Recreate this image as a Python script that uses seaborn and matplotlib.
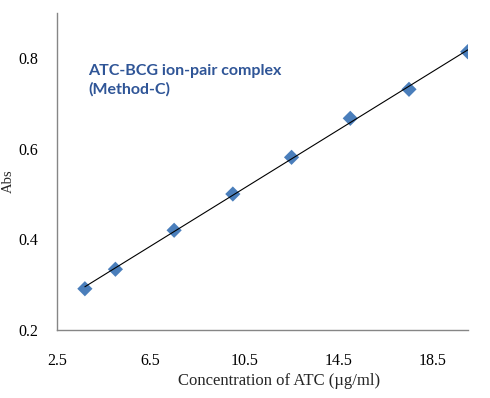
import numpy as np
import pandas as pd
import matplotlib
matplotlib.use("Agg")
import matplotlib.pyplot as plt
import seaborn as sns

conc = [3.7, 5.0, 7.5, 10.0, 12.5, 15.0, 17.5, 20.0]
absorb = [0.291, 0.334, 0.420, 0.500, 0.581, 0.667, 0.731, 0.814]
xticks = [2.5, 6.5, 10.5, 14.5, 18.5]
yticks = [0.2, 0.4, 0.6, 0.8]

df = pd.DataFrame({"conc": conc, "abs": absorb})

sns.set_style("white")
plt.rcParams['font.family'] = ['Liberation Serif', 'DejaVu Serif']

fig = plt.figure(figsize=(4.9, 3.98), dpi=100)
ax = fig.add_axes([0.1157, 0.1709, 0.8388, 0.7971])

# trend line
m, b = np.polyfit(df["conc"], df["abs"], 1)
xl = np.array([df["conc"].min(), df["conc"].max()])
ax.plot(xl, m * xl + b, color="black", lw=0.8, zorder=3)

sns.scatterplot(data=df, x="conc", y="abs", marker="D", s=60, color="#4A7EBB",
                edgecolor="none", ax=ax, zorder=2)

ax.set_xlim(2.5, 20.0)
ax.set_ylim(0.2, 0.9)
ax.set_xticks(xticks)
ax.set_xticklabels([str(t) for t in xticks])
ax.set_yticks(yticks)
ax.set_yticklabels([str(t) for t in yticks])

for side in ["top", "right"]:
    ax.spines[side].set_visible(False)
for side in ["left", "bottom"]:
    ax.spines[side].set_color("#868686")
    ax.spines[side].set_linewidth(1.0)

ax.tick_params(axis="both", direction="out", length=3.6, width=1, color="#868686",
               labelsize=11.5, labelcolor="black")
ax.tick_params(axis="y", pad=9.5)
ax.tick_params(axis="x", pad=13)

ax.set_xlabel("Concentration of ATC (µg/ml)", fontsize=12)
ax.xaxis.set_label_coords(0.54, -0.135)
ax.set_ylabel("Abs", fontsize=10.5)
ax.yaxis.set_label_coords(-0.101, 0.47)

ax.text(3.85, 0.786, "ATC-BCG ion-pair complex\n(Method-C)", color="#2F5597",
        fontsize=11.5, fontweight="bold", family=["Lato", "DejaVu Sans"],
        va="top", ha="left", linespacing=1.35)

fig.savefig("out.png", dpi=100, facecolor="white")
